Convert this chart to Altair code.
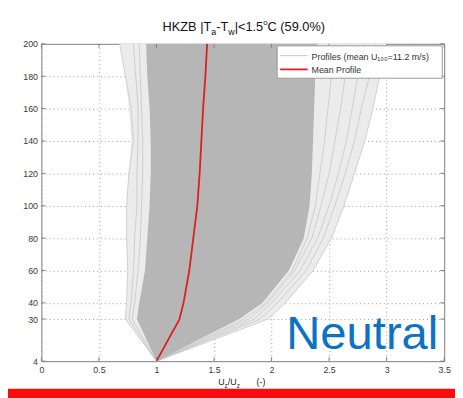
import altair as alt
import pandas as pd

# ---- data ----
Z = [4, 30, 40, 60, 80, 100, 120, 140, 160, 180, 200]
MEAN = [1.0, 1.20, 1.235, 1.285, 1.32, 1.355, 1.375, 1.39, 1.405, 1.425, 1.44]
CORE_LO = [1.0, 0.83, 0.85, 0.90, 0.92, 0.94, 0.95, 0.95, 0.94, 0.92, 0.91]
CORE_HI = [1.0, 1.72, 1.92, 2.15, 2.28, 2.33, 2.35, 2.36, 2.37, 2.38, 2.40]
FR_LO = [1.0, 0.73, 0.74, 0.75, 0.74, 0.74, 0.76, 0.78, 0.76, 0.73, 0.68]
FR_HI = [1.0, 1.97, 2.12, 2.36, 2.52, 2.63, 2.72, 2.81, 2.88, 2.94, 3.00]
EDGE_L1 = [1.0, 0.73, 0.74, 0.75, 0.74, 0.74, 0.76, 0.80, 0.78, 0.73, 0.68]
EDGE_L2 = [1.0, 0.76, 0.78, 0.80, 0.81, 0.83, 0.83, 0.84, 0.84, 0.82, 0.80]
EDGE_L3 = [1.0, 0.79, 0.81, 0.84, 0.86, 0.87, 0.88, 0.88, 0.87, 0.86, 0.85]
EDGE_R1 = [1.0, 1.97, 2.12, 2.36, 2.52, 2.63, 2.72, 2.81, 2.88, 2.94, 3.00]
EDGE_R2 = [1.0, 1.90, 2.05, 2.30, 2.45, 2.55, 2.64, 2.72, 2.78, 2.85, 2.90]
EDGE_R3 = [1.0, 1.85, 2.00, 2.25, 2.40, 2.50, 2.58, 2.65, 2.70, 2.75, 2.80]
EDGE_R4 = [1.0, 1.80, 1.97, 2.20, 2.35, 2.43, 2.50, 2.55, 2.60, 2.64, 2.68]
EDGE_R5 = [1.0, 1.76, 1.95, 2.18, 2.31, 2.38, 2.42, 2.46, 2.49, 2.52, 2.55]
X_TICKS = [0, 0.5, 1, 1.5, 2, 2.5, 3, 3.5]
Y_TICKS = [4, 30, 40, 60, 80, 100, 120, 140, 160, 180, 200]
LEGEND_PROFILES = "Profiles (mean U\u2081\u2080\u2080=11.2 m/s)"
LEGEND_MEAN = "Mean Profile"

W, H = 410, 323
FONT = "Liberation Sans"
FRAME = "#808080"
LABEL = "#3a3a3a"

xs = alt.Scale(domain=[0, 3.5], nice=False, zero=False)
ys = alt.Scale(domain=[4, 200], nice=False, zero=False)

band = pd.DataFrame({"z": Z, "clo": CORE_LO, "chi": CORE_HI, "flo": FR_LO, "fhi": FR_HI, "m": MEAN})
edges = []
for name, vals in [("L1", EDGE_L1), ("L2", EDGE_L2), ("L3", EDGE_L3), ("R1", EDGE_R1), ("R2", EDGE_R2),
                   ("R3", EDGE_R3), ("R4", EDGE_R4), ("R5", EDGE_R5)]:
    for z, u in zip(Z, vals):
        edges.append({"id": name, "z": z, "u": u})
edges = pd.DataFrame(edges)

base = alt.Chart(band)
axis_common = dict(grid=True, gridDash=[1, 3], gridColor="#9a9a9a", tickSize=0, domain=False,
                   labelFontSize=9, labelColor=LABEL, labelFont=FONT, labelOverlap=False,
                   labelBound=False, labelFlush=False, title=None)

X_AX = alt.Axis(values=X_TICKS, format="~g", labelPadding=5, **axis_common)
Y_AX = alt.Axis(values=Y_TICKS, labelPadding=4, **axis_common)

fringe = base.mark_area(orient="horizontal", color="#ebebeb").encode(
    y=alt.Y("z:Q", scale=ys, axis=Y_AX),
    x=alt.X("flo:Q", scale=xs, axis=X_AX),
    x2="fhi:Q",
)
edge_lines = alt.Chart(edges).mark_line(color="#c6c6c6", strokeWidth=0.8).encode(
    x=alt.X("u:Q", scale=xs, axis=X_AX), y=alt.Y("z:Q", scale=ys, axis=Y_AX), detail="id:N", order="z:Q"
)
core = base.mark_area(orient="horizontal", color="#b6b6b6").encode(
    y=alt.Y("z:Q", scale=ys, axis=Y_AX), x=alt.X("clo:Q", scale=xs, axis=X_AX), x2="chi:Q"
)
mean = base.mark_line(color="#dc1f1f", strokeWidth=1.8).encode(
    x=alt.X("m:Q", scale=xs, axis=X_AX), y=alt.Y("z:Q", scale=ys, axis=Y_AX), order="z:Q"
)

# inward ticks
xt = alt.Chart(pd.DataFrame({"v": X_TICKS}))
yt = alt.Chart(pd.DataFrame({"v": Y_TICKS}))
tick_layers = [
    xt.mark_rule(color=FRAME).encode(x=alt.X("v:Q", scale=xs, axis=X_AX), y=alt.value(H), y2=alt.value(H - 4)),
    xt.mark_rule(color=FRAME).encode(x=alt.X("v:Q", scale=xs, axis=X_AX), y=alt.value(0), y2=alt.value(4)),
    yt.mark_rule(color=FRAME).encode(y=alt.Y("v:Q", scale=ys, axis=Y_AX), x=alt.value(0), x2=alt.value(4)),
    yt.mark_rule(color=FRAME).encode(y=alt.Y("v:Q", scale=ys, axis=Y_AX), x=alt.value(W), x2=alt.value(W - 4)),
]

one = pd.DataFrame({"k": [0]})
# legend
legend_layers = [
    alt.Chart(one).mark_rect(fill="white", stroke="#9a9a9a", strokeWidth=1).encode(
        x=alt.value(240), x2=alt.value(408), y=alt.value(2), y2=alt.value(35)),
    alt.Chart(one).mark_rule(color="#c8c8c8", strokeWidth=1).encode(
        x=alt.value(243), x2=alt.value(271), y=alt.value(12)),
    alt.Chart(one).mark_rule(color="#dc1f1f", strokeWidth=1.8).encode(
        x=alt.value(243), x2=alt.value(271), y=alt.value(26)),
    alt.Chart(pd.DataFrame({"t": [LEGEND_PROFILES]})).mark_text(
        align="left", baseline="alphabetic", font=FONT, fontSize=9, color="#333333").encode(
        text="t:N", x=alt.value(275), y=alt.value(16)),
    alt.Chart(pd.DataFrame({"t": [LEGEND_MEAN]})).mark_text(
        align="left", baseline="alphabetic", font=FONT, fontSize=9, color="#333333").encode(
        text="t:N", x=alt.value(275), y=alt.value(30)),
]

# text-width helper (Arial metrics) for composing sub/superscripts
ARIAL = {"H": 722, "K": 667, "Z": 611, "B": 667, " ": 278, "|": 260, "T": 611, "a": 556, "-": 333,
         "w": 722, "<": 584, "1": 556, ".": 278, "5": 556, "o": 556, "C": 722, "(": 333, "9": 556,
         "0": 556, "%": 889, ")": 333, "U": 722, "z": 500, "/": 278}


def tw(s, size):
    return sum(ARIAL.get(c, 556) for c in s) * size / 1000.0


def pieces_layers(pieces, x0, base_y, color):
    layers = []
    x = x0
    for text, size, dy, gap in pieces:
        x += gap
        layers.append(alt.Chart(pd.DataFrame({"t": [text]})).mark_text(
            align="left", baseline="alphabetic", font=FONT, fontSize=size, color=color).encode(
            text="t:N", x=alt.value(x), y=alt.value(base_y + dy)))
        x += tw(text, size)
    return layers


title_pieces = [("HKZB |T", 13, 0, 0), ("a", 9, 4, 0), ("-T", 13, 0, 0), ("w", 9, 4, 0), ("|<1.5", 13, 0, 0),
                ("o", 8, -6, 0), ("C (59.0%)", 13, 0, 0)]
title_w = sum(tw(t, s) for t, s, _, _ in title_pieces)
title_layers = pieces_layers(title_pieces, W / 2 - title_w / 2 + 1, -13, "#111111")

xtitle_pieces = [("U", 9, 0, 0), ("z", 6.5, 3, 0), ("/U", 9, 0, 0), ("z", 6.5, 3, 0), ("(-)", 9, 0, 17)]
xtitle_layers = pieces_layers(xtitle_pieces, 180, 347, "#222222")

neutral = alt.Chart(pd.DataFrame({"t": ["Neutral"]})).mark_text(
    align="right", baseline="alphabetic", font=FONT, fontSize=48, color="#0b72c4").encode(
    text="t:N", x=alt.value(404), y=alt.value(311))

red_bar = alt.Chart(one).mark_rect(color="#f70d0d").encode(
    x=alt.value(-45), x2=alt.value(W + 15), y=alt.value(351), y2=alt.value(362))

chart = alt.layer(
    fringe, edge_lines, core, mean, *tick_layers, *legend_layers, neutral,
    *title_layers, *xtitle_layers, red_bar
).properties(
    width=W, height=H,
    autosize=alt.AutoSizeParams(type="none"),
    padding={"left": 34, "top": 33, "right": 11, "bottom": 34},
    background="white",
).configure_view(stroke=FRAME, strokeWidth=1).configure_axis(labelOverlap=False)

chart.save("out.html", embed_options={"renderer": "svg", "actions": False})
